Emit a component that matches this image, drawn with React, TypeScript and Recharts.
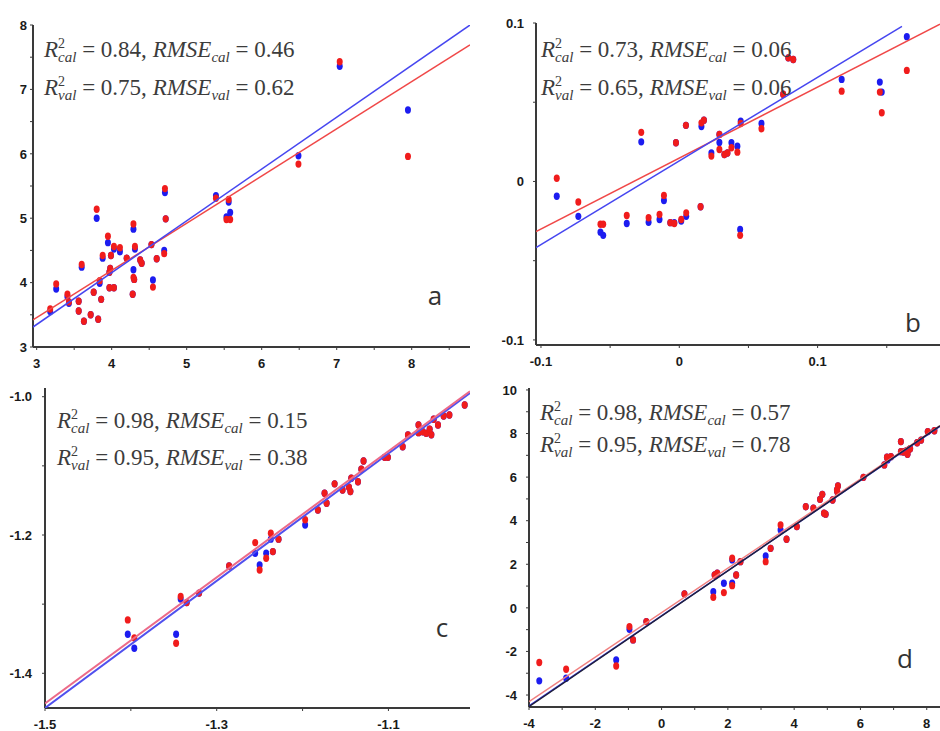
import React from 'react'
import { ScatterChart, Scatter, XAxis, YAxis } from 'recharts'

// panel a: x, blue y, red y
const aX = [3.18, 3.26, 3.41, 3.43, 3.56, 3.56, 3.60, 3.63, 3.72, 3.76, 3.80, 3.82, 3.84, 3.86, 3.88, 3.95, 3.97, 3.98, 3.97, 3.99, 4.03, 4.03, 4.11, 4.20, 4.28, 4.29, 4.29, 4.30, 4.31, 4.38, 4.40, 4.53, 4.55, 4.60, 4.70, 4.71, 4.72, 5.39, 5.53, 5.56, 5.58, 6.49, 7.04, 7.95]
const aBlue = [3.55, 3.90, 3.78, 3.68, 3.71, 3.56, 4.24, 3.40, 3.50, 3.85, 5.00, 3.43, 3.99, 3.74, 4.38, 4.62, 4.16, 4.22, 3.92, 4.42, 4.52, 3.92, 4.48, 4.38, 3.82, 4.83, 4.20, 4.05, 4.52, 4.35, 4.30, 4.59, 4.04, 4.37, 4.50, 5.40, 4.99, 5.35, 5.02, 5.25, 5.09, 5.97, 7.36, 6.68]
const aRed = [3.59, 3.98, 3.82, 3.70, 3.71, 3.56, 4.28, 3.40, 3.50, 3.85, 5.14, 3.43, 4.03, 3.74, 4.42, 4.72, 4.16, 4.22, 3.92, 4.42, 4.56, 3.92, 4.54, 4.38, 3.82, 4.91, 4.08, 4.05, 4.56, 4.35, 4.30, 4.59, 3.93, 4.37, 4.45, 5.46, 4.99, 5.31, 4.98, 5.29, 4.98, 5.84, 7.43, 5.96]

// panel b
const bX = [-0.0886, -0.073, -0.057, -0.055, -0.038, -0.0275, -0.0222, -0.0143, -0.0111, -0.0065, -0.0036, -0.0024, 0.0014, 0.005, 0.0048, 0.0154, 0.016, 0.0178, 0.0232, 0.029, 0.029, 0.0326, 0.0348, 0.0377, 0.042, 0.0444, 0.044, 0.0594, 0.0751, 0.0788, 0.0824, 0.1174, 0.145, 0.1464, 0.1645]
const bBlue = [-0.0093, -0.022, -0.032, -0.034, -0.0265, 0.025, -0.0257, -0.024, -0.012, -0.026, -0.026, 0.0244, -0.025, -0.022, 0.0354, -0.016, 0.0347, 0.0387, 0.018, 0.0297, 0.0246, 0.017, 0.018, 0.0244, 0.0223, 0.038, -0.0303, 0.0366, 0.055, 0.078, 0.077, 0.0644, 0.0627, 0.0564, 0.0914]
const bRed = [0.002, -0.013, -0.027, -0.027, -0.0215, 0.031, -0.0229, -0.0208, -0.0088, -0.026, -0.0265, 0.0244, -0.024, -0.0198, 0.0354, -0.016, 0.037, 0.0387, 0.016, 0.0297, 0.0202, 0.017, 0.018, 0.0213, 0.0185, 0.0366, -0.034, 0.0333, 0.055, 0.078, 0.077, 0.057, 0.0564, 0.0434, 0.0701]

// panel c
const cX = [-1.4036, -1.396, -1.3473, -1.342, -1.335, -1.3205, -1.2856, -1.2552, -1.25, -1.2424, -1.237, -1.2346, -1.228, -1.197, -1.1822, -1.1744, -1.172, -1.1627, -1.1534, -1.146, -1.1443, -1.1433, -1.1355, -1.1316, -1.129, -1.1044, -1.1006, -1.0834, -1.0773, -1.065, -1.065, -1.06, -1.056, -1.052, -1.05, -1.0473, -1.0423, -1.0357, -1.029, -1.0112]
const cBlue = [-1.3435, -1.3637, -1.3435, -1.2925, -1.2978, -1.284, -1.2448, -1.2264, -1.2433, -1.2264, -1.206, -1.224, -1.206, -1.1855, -1.1638, -1.1397, -1.154, -1.126, -1.135, -1.131, -1.137, -1.118, -1.123, -1.105, -1.093, -1.0877, -1.0877, -1.0723, -1.0554, -1.041, -1.052, -1.0506, -1.053, -1.047, -1.055, -1.0327, -1.041, -1.028, -1.0265, -1.012]
const cRed = [-1.3228, -1.349, -1.3565, -1.289, -1.2978, -1.284, -1.2448, -1.211, -1.2506, -1.2337, -1.1975, -1.224, -1.206, -1.178, -1.1638, -1.1397, -1.154, -1.126, -1.135, -1.131, -1.137, -1.118, -1.123, -1.105, -1.093, -1.0877, -1.0877, -1.0723, -1.0554, -1.041, -1.052, -1.0506, -1.053, -1.047, -1.055, -1.0327, -1.041, -1.028, -1.0265, -1.012]

// panel d
const dX = [-3.69, -2.88, -1.37, -0.97, -0.86, -0.46, 0.69, 1.56, 1.60, 1.68, 1.88, 2.13, 2.13, 2.25, 2.38, 3.14, 3.29, 3.59, 3.77, 4.08, 4.35, 4.58, 4.78, 4.85, 4.90, 4.95, 5.16, 5.29, 5.32, 5.30, 6.09, 6.72, 6.80, 6.82, 6.92, 7.22, 7.22, 7.30, 7.38, 7.42, 7.45, 7.50, 7.71, 7.83, 8.03, 8.23]
const dBlue = [-3.35, -3.23, -2.39, -0.98, -1.47, -0.63, 0.64, 0.74, 1.51, 1.59, 1.13, 2.20, 1.13, 1.51, 2.12, 2.38, 2.73, 3.57, 3.15, 3.73, 4.64, 4.57, 4.98, 5.21, 4.34, 4.30, 4.95, 5.41, 5.59, 5.33, 5.99, 6.56, 6.91, 6.79, 6.94, 7.63, 7.17, 7.15, 7.20, 7.05, 7.25, 7.30, 7.58, 7.70, 8.09, 8.13]
const dRed = [-2.51, -2.82, -2.67, -0.86, -1.47, -0.63, 0.64, 0.49, 1.51, 1.59, 0.70, 2.28, 1.02, 1.51, 2.12, 2.12, 2.73, 3.80, 3.15, 3.73, 4.64, 4.57, 4.98, 5.21, 4.34, 4.30, 4.95, 5.41, 5.59, 5.33, 5.99, 6.56, 6.91, 6.85, 6.94, 7.63, 7.17, 7.15, 7.20, 7.05, 7.25, 7.30, 7.58, 7.70, 8.09, 8.13]

// fitted lines (two end points each)
const aLineX = [2.951, 8.777]
const aBlueLine = [3.31, 8.0]
const aRedLine = [3.42, 7.69]
const bBlueLineX = [-0.1036, 0.161]
const bBlueLine = [-0.0417, 0.0979]
const bRedLineX = [-0.1036, 0.1885]
const bRedLine = [-0.0316, 0.0992]
const cLineX = [-1.5, -1.005]
const cBlueLine = [-1.4502, -0.9947]
const cRedLine = [-1.4435, -0.9922]
const dLineX = [-4, 8.4]
const dBlueLine = [-4.5, 8.33]
const dRedLine = [-4.3, 8.36]
const dBlackLine = [-4.53, 8.35]

const stats = [
  { r2c: '0.84', rc: '0.46', r2v: '0.75', rv: '0.62' },
  { r2c: '0.73', rc: '0.06', r2v: '0.65', rv: '0.06' },
  { r2c: '0.98', rc: '0.15', r2v: '0.95', rv: '0.38' },
  { r2c: '0.98', rc: '0.57', r2v: '0.95', rv: '0.78' },
]
const letters = ['a', 'b', 'c', 'd']

const BLUE = '#1c1cf0'
const RED = '#f01c1c'
const AXIS = '#3a3a3a'

const pts = (xs: number[], ys: number[]) => xs.map((x, i) => ({ x, y: ys[i] }))

const dot = (fill: string) => (p: any) => (
  <ellipse cx={p.cx} cy={p.cy} rx={3} ry={3.7} fill={fill} />
)

const near = (arr: number[], v: number) => arr.some(m => Math.abs(m - v) < 1e-9)

interface PanelProps {
  rect: { l: number; t: number; r: number; b: number }
  xDomain: [number, number]
  yDomain: [number, number]
  xTicks: number[]
  xMajor: number[]
  yTicks: number[]
  yMajor: number[]
  fmt: (v: number) => string
  yGap: number
  blue: { x: number; y: number }[]
  red: { x: number; y: number }[]
  lines: { data: { x: number; y: number }[]; color: string; width: number }[]
}

function Panel({ rect, xDomain, yDomain, xTicks, xMajor, yTicks, yMajor, fmt, yGap, blue, red, lines }: PanelProps) {
  const YW = 30
  const XH = 30
  const labelStyle = { fontFamily: '"Liberation Sans", Arial, sans-serif', fontWeight: 700, fontSize: 13, fill: '#1a1a1a' }

  const XTick = (p: any) =>
    near(xMajor, p.payload.value) ? (
      <text x={p.x} y={p.y + 17.5} textAnchor="middle" style={labelStyle}>{fmt(p.payload.value)}</text>
    ) : <g />

  const YTick = (p: any) =>
    near(yMajor, p.payload.value) ? (
      <text x={p.x} y={p.y + 4.7} textAnchor="end" style={labelStyle}>{fmt(p.payload.value)}</text>
    ) : <g />

  return (
    <div style={{ position: 'absolute', left: 0, top: 0 }}>
      <ScatterChart
        width={940}
        height={731}
        margin={{ top: rect.t, left: rect.l - YW, right: 940 - rect.r, bottom: 731 - rect.b - XH }}
      >
        <XAxis
          type="number"
          dataKey="x"
          domain={xDomain}
          allowDataOverflow
          ticks={xTicks}
          interval={0}
          height={XH}
          tickSize={3}
          tickMargin={0}
          tickLine={{ stroke: AXIS }}
          axisLine={{ stroke: AXIS, strokeWidth: 2 }}
          tick={XTick}
        />
        <YAxis
          type="number"
          dataKey="y"
          domain={yDomain}
          allowDataOverflow
          ticks={yTicks}
          interval={0}
          width={YW}
          tickSize={3}
          tickMargin={yGap - 3}
          tickLine={{ stroke: AXIS }}
          axisLine={{ stroke: AXIS, strokeWidth: 2 }}
          tick={YTick}
        />
        <Scatter data={blue} shape={dot(BLUE)} isAnimationActive={false} />
        <Scatter data={red} shape={dot(RED)} isAnimationActive={false} />
        {lines.map((ln, i) => (
          <Scatter
            key={i}
            data={ln.data}
            shape={() => <g />}
            line={{ stroke: ln.color, strokeWidth: ln.width }}
            isAnimationActive={false}
          />
        ))}
      </ScatterChart>
    </div>
  )
}

function Equation({ x, y, r2, rmse, sub }: { x: number; y: number; r2: string; rmse: string; sub: string }) {
  return (
    <text x={x} y={y} style={{ fontFamily: '"Liberation Serif", serif', fontSize: 23, fill: '#3c3c3c' }}>
      <tspan fontStyle="italic">R</tspan>
      <tspan fontSize={14} dy={-9}>2</tspan>
      <tspan fontSize={15} fontStyle="italic" dx={-7} dy={14}>{sub}</tspan>
      <tspan dy={-5}>{` = ${r2}, `}</tspan>
      <tspan fontStyle="italic">RMSE</tspan>
      <tspan fontSize={15} fontStyle="italic" dy={5}>{sub}</tspan>
      <tspan dy={-5}>{` = ${rmse}`}</tspan>
    </text>
  )
}

const eqPos = [
  { x: 44, y1: 57, y2: 95 },
  { x: 541, y1: 57, y2: 95 },
  { x: 57, y1: 428, y2: 465 },
  { x: 540, y1: 420, y2: 452 },
]
const letterPos = [
  { x: 435, y: 305 },
  { x: 913, y: 332 },
  { x: 442, y: 637 },
  { x: 905, y: 668 },
]

export default function App() {
  const intFmt = (v: number) => String(Math.round(v))
  const oneFmt = (v: number) => (Math.abs(v) < 1e-9 ? '0' : v.toFixed(1))

  return (
    <div style={{ position: 'absolute', left: 0, top: 0, width: 940, height: 731, background: '#fff', overflow: 'hidden' }}>
      <Panel
        rect={{ l: 33, t: 25, r: 470, b: 347 }}
        xDomain={[2.951, 8.777]}
        yDomain={[3, 8]}
        xTicks={[3, 3.5, 4, 4.5, 5, 5.5, 6, 6.5, 7, 7.5, 8, 8.5]}
        xMajor={[3, 4, 5, 6, 7, 8]}
        yTicks={[3, 3.5, 4, 4.5, 5, 5.5, 6, 6.5, 7, 7.5, 8]}
        yMajor={[3, 4, 5, 6, 7, 8]}
        fmt={intFmt}
        yGap={6}
        blue={pts(aX, aBlue)}
        red={pts(aX, aRed)}
        lines={[
          { data: pts(aLineX, aRedLine), color: '#f04848', width: 1.5 },
          { data: pts(aLineX, aBlueLine), color: '#4646f0', width: 1.5 },
        ]}
      />
      <Panel
        rect={{ l: 536, t: 23, r: 940, b: 345 }}
        xDomain={[-0.1036, 0.1885]}
        yDomain={[-0.1032, 0.1]}
        xTicks={[-0.1, -0.05, 0, 0.05, 0.1, 0.15]}
        xMajor={[-0.1, 0, 0.1]}
        yTicks={[-0.1, -0.05, 0, 0.05, 0.1]}
        yMajor={[-0.1, 0, 0.1]}
        fmt={oneFmt}
        yGap={12}
        blue={pts(bX, bBlue)}
        red={pts(bX, bRed)}
        lines={[
          { data: pts(bRedLineX, bRedLine), color: '#f04848', width: 1.5 },
          { data: pts(bBlueLineX, bBlueLine), color: '#4646f0', width: 1.5 },
        ]}
      />
      <Panel
        rect={{ l: 45, t: 388, r: 470, b: 708 }}
        xDomain={[-1.5, -1.005]}
        yDomain={[-1.4502, -0.9874]}
        xTicks={[-1.5, -1.4, -1.3, -1.2, -1.1]}
        xMajor={[-1.5, -1.3, -1.1]}
        yTicks={[-1.4, -1.3, -1.2, -1.1, -1.0]}
        yMajor={[-1.4, -1.2, -1.0]}
        fmt={oneFmt}
        yGap={13}
        blue={pts(cX, cBlue)}
        red={pts(cX, cRed)}
        lines={[
          { data: pts(cLineX, cBlueLine), color: '#5050ee', width: 2 },
          { data: pts(cLineX, cRedLine), color: '#ec6a88', width: 2 },
        ]}
      />
      <Panel
        rect={{ l: 529, t: 388, r: 940, b: 707 }}
        xDomain={[-4, 8.4]}
        yDomain={[-4.55, 10.09]}
        xTicks={[-4, -3, -2, -1, 0, 1, 2, 3, 4, 5, 6, 7, 8]}
        xMajor={[-4, -2, 0, 2, 4, 6, 8]}
        yTicks={[-4, -3, -2, -1, 0, 1, 2, 3, 4, 5, 6, 7, 8, 9, 10]}
        yMajor={[-4, -2, 0, 2, 4, 6, 8, 10]}
        fmt={intFmt}
        yGap={12}
        blue={pts(dX, dBlue)}
        red={pts(dX, dRed)}
        lines={[
          { data: pts(dLineX, dRedLine), color: '#f08080', width: 1.5 },
          { data: pts(dLineX, dBlueLine), color: '#3434e0', width: 1.5 },
          { data: pts(dLineX, dBlackLine), color: '#20203a', width: 1.5 },
        ]}
      />
      <svg width={940} height={731} style={{ position: 'absolute', left: 0, top: 0, pointerEvents: 'none' }}>
        {stats.map((s, i) => (
          <g key={i}>
            <Equation x={eqPos[i].x} y={eqPos[i].y1} r2={s.r2c} rmse={s.rc} sub="cal" />
            <Equation x={eqPos[i].x} y={eqPos[i].y2} r2={s.r2v} rmse={s.rv} sub="val" />
          </g>
        ))}
        {letters.map((l, i) => (
          <text
            key={l}
            x={letterPos[i].x}
            y={letterPos[i].y}
            textAnchor="middle"
            style={{ fontFamily: '"Open Sans", sans-serif', fontSize: 26, fill: '#333' }}
          >
            {l}
          </text>
        ))}
      </svg>
    </div>
  )
}
